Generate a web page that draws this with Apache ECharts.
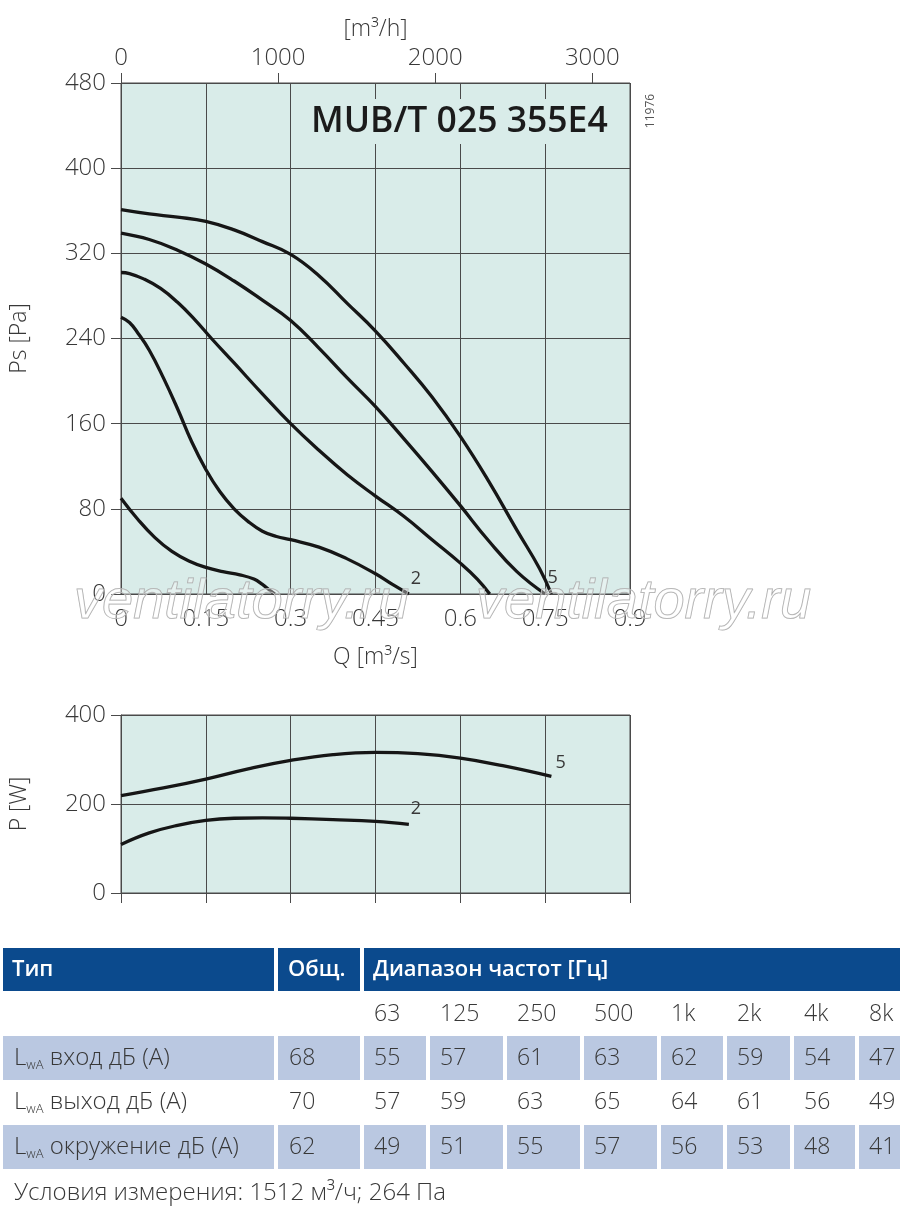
<!DOCTYPE html>
<html><head><meta charset="utf-8">
<script src="https://cdn.jsdelivr.net/npm/echarts@6/dist/echarts.min.js"></script>
<style>html,body{margin:0;padding:0;background:#fff}#c{width:900px;height:1210px}</style>
</head><body><div id="c"></div>
<script>
// ---------- DATA ----------
const qTickValues = [0, 0.15, 0.3, 0.45, 0.6, 0.75, 0.9];
const flowTickValues = [0, 1000, 2000, 3000];
const modelName = 'MUB/T 025 355E4';
const drawingNo = '11976';

// pressure curves (Q m3/s, Ps Pa)
const c1Q  = [0, 0.03, 0.06, 0.09, 0.12, 0.15, 0.18, 0.21, 0.235, 0.25, 0.262, 0.272];
const c1Ps = [90, 70, 53, 40, 31, 25, 21, 18, 14, 9, 4, 0];
const c2Q  = [0, 0.015, 0.03, 0.05, 0.075, 0.1, 0.125, 0.15, 0.175, 0.2, 0.225, 0.25, 0.275, 0.3, 0.35, 0.4, 0.45, 0.48, 0.509];
const c2Ps = [260, 255, 245, 229, 203, 174, 143, 117, 96, 80, 68, 59, 54, 51, 44, 33, 19, 9, 0];
const c3Q  = [0, 0.015, 0.04, 0.07, 0.1, 0.13, 0.16, 0.2, 0.25, 0.3, 0.35, 0.4, 0.45, 0.5, 0.55, 0.6, 0.63, 0.652];
const c3Ps = [302, 301, 296, 287, 274, 258, 240, 217, 188, 160, 135, 112, 92, 73, 51, 29, 14, 0];
const c4Q  = [0, 0.05, 0.1, 0.15, 0.2, 0.25, 0.3, 0.35, 0.4, 0.45, 0.5, 0.55, 0.6, 0.65, 0.7, 0.75];
const c4Ps = [339, 333, 323, 310, 294, 276, 257, 231, 203, 176, 146, 115, 83, 50, 21, 0];
const c5Q  = [0, 0.05, 0.1, 0.15, 0.2, 0.25, 0.3, 0.35, 0.4, 0.45, 0.5, 0.55, 0.6, 0.65, 0.7, 0.74, 0.761];
const c5Ps = [361, 357, 354, 350, 342, 331, 319, 299, 273, 247, 217, 185, 148, 106, 60, 24, 0];

// power curves (Q m3/s, P W)
const p5Q = [0, 0.075, 0.15, 0.225, 0.3, 0.375, 0.45, 0.525, 0.6, 0.675, 0.761];
const p5W = [219, 236, 256, 279, 298, 311, 316, 313, 303, 286, 262];
const p2Q = [0, 0.05, 0.1, 0.15, 0.2, 0.25, 0.3, 0.375, 0.45, 0.509];
const p2W = [109, 135, 152, 163, 168, 169, 168, 165, 161, 154];

// sound table
const headerCells = ['Тип', 'Общ.', 'Диапазон частот [Гц]'];
const freqBands = ['63', '125', '250', '500', '1k', '2k', '4k', '8k'];
const rowNames = ['вход дБ (A)', 'выход дБ (A)', 'окружение дБ (A)'];
const totalLevels = [68, 70, 62];
const inletLevels = [55, 57, 61, 63, 62, 59, 54, 47];
const outletLevels = [57, 59, 63, 65, 64, 61, 56, 49];
const surroundLevels = [49, 51, 55, 57, 56, 53, 48, 41];
const footerText = 'Условия измерения: 1512 м³/ч; 264 Па';
const watermark = 'ventilatorry.ru';

// ---------- STYLE / LAYOUT ----------
const FONT = "'Open Sans', 'DejaVu Sans', sans-serif";
const TXT = '#383838';
const GRIDC = '#4a4a4a';
const PLOTBG = '#d9ece9';
const LINEC = '#161616';
const BLUE = '#0b4a8d';
const ROWBG = '#bac8e1';

const pairs = (xs, ys) => xs.map((x, i) => [x, ys[i]]);
const fmtQ = v => String(+(+v).toFixed(2));

function curve(name, xs, ys, xi, yi, lbl) {
  const s = {
    name, type: 'line', xAxisIndex: xi, yAxisIndex: yi,
    data: pairs(xs, ys), smooth: 0.45,
    symbol: 'none', lineStyle: { color: LINEC, width: 3.3 }, z: 3,
    silent: true
  };
  if (lbl) {
    s.endLabel = { show: true, formatter: lbl.t, fontFamily: FONT, fontSize: 18,
      color: TXT, distance: 2, offset: lbl.off };
  }
  return s;
}

const labelStyle = { fontFamily: FONT, fontSize: 24, color: TXT, fontWeight: 300 };
const nameStyle = { fontFamily: FONT, fontSize: 23, color: TXT, fontWeight: 300 };

// ---------- TABLE GRAPHICS ----------
const g = [];
const colL = [364, 430, 507, 584, 661, 727, 794, 859];
const colR = [426, 503, 580, 657, 723, 790, 855, 900];
const tipL = 3, tipR = 274, totL = 278, totR = 360;
// header
g.push({ type: 'rect', shape: { x: tipL, y: 948, width: tipR - tipL, height: 43 }, style: { fill: BLUE } });
g.push({ type: 'rect', shape: { x: totL, y: 948, width: totR - totL, height: 43 }, style: { fill: BLUE } });
g.push({ type: 'rect', shape: { x: 364, y: 948, width: 536, height: 43 }, style: { fill: BLUE } });
[[12], [288], [373]].forEach((p, i) => g.push({ type: 'text', x: p[0], y: 970,
  style: { text: headerCells[i], fill: '#fff', font: "600 22px " + FONT, textVerticalAlign: 'middle' } }));
// freq row
freqBands.forEach((f, i) => g.push({ type: 'text', x: colL[i] + 10, y: 1014,
  style: { text: f, fill: TXT, font: "300 23px " + FONT, textVerticalAlign: 'middle' } }));
const rowsY = [1036, 1080, 1125];
const rowVals = [inletLevels, outletLevels, surroundLevels];
rowsY.forEach((y, r) => {
  const shaded = r !== 1;
  if (shaded) {
    g.push({ type: 'rect', shape: { x: tipL, y, width: tipR - tipL, height: 44 }, style: { fill: ROWBG } });
    g.push({ type: 'rect', shape: { x: totL, y, width: totR - totL, height: 44 }, style: { fill: ROWBG } });
    colL.forEach((l, i) => g.push({ type: 'rect', shape: { x: l, y, width: colR[i] - l, height: 44 }, style: { fill: ROWBG } }));
  }
  const cy = y + 22;
  g.push({ type: 'text', x: 14, y: cy, style: {
    text: '{a|L}{s|wA}{a| ' + rowNames[r] + '}', textVerticalAlign: 'middle',
    rich: { a: { fontFamily: FONT, fontWeight: 300, fontSize: 24, fill: TXT, color: TXT, lineHeight: 28 },
            s: { fontFamily: FONT, fontWeight: 300, fontSize: 13, fill: TXT, color: TXT, lineHeight: 12, verticalAlign: 'bottom' } } } });
  g.push({ type: 'text', x: 289, y: cy, style: { text: String(totalLevels[r]), fill: TXT, font: "300 23px " + FONT, textVerticalAlign: 'middle' } });
  rowVals[r].forEach((v, i) => g.push({ type: 'text', x: colL[i] + 10, y: cy,
    style: { text: String(v), fill: TXT, font: "300 23px " + FONT, textVerticalAlign: 'middle' } }));
});
g.push({ type: 'text', x: 14, y: 1193, style: { text: footerText, fill: TXT, font: "300 24px " + FONT, textVerticalAlign: 'middle' } });
// drawing number
g.push({ type: 'text', x: 651, y: 111, rotation: Math.PI / 2,
  style: { text: drawingNo, fill: '#555', font: "12px " + FONT, textAlign: 'center', textVerticalAlign: 'middle' } });
// watermark
[[74], [476]].forEach(p => g.push({ type: 'text', x: p[0], y: 602, z: 100,
  style: { text: watermark, fill: 'rgba(255,255,255,0.35)', stroke: '#a8a8a8', lineWidth: 1,
    font: "italic 56px 'Liberation Sans', sans-serif", textVerticalAlign: 'middle' } }));

// ---------- CHART ----------
const chart = echarts.init(document.getElementById('c'), null, { renderer: 'canvas' });
chart.setOption({
  backgroundColor: '#fff',
  animation: false,
  title: { text: modelName, left: 301, top: 99, padding: [5, 12, 4, 10], backgroundColor: PLOTBG,
    textStyle: { fontFamily: FONT, fontSize: 35.5, fontWeight: 600, color: '#1b1b1b' } },
  grid: [
    { left: 119, top: 83, width: 511, height: 511, show: true, backgroundColor: PLOTBG, borderColor: GRIDC, borderWidth: 1 },
    { left: 119, top: 715, width: 511, height: 178, show: true, backgroundColor: PLOTBG, borderColor: GRIDC, borderWidth: 1 }
  ],
  xAxis: [
    { gridIndex: 0, type: 'value', min: 0, max: 0.9, interval: 0.15, position: 'bottom',
      axisLine: { show: true, lineStyle: { color: GRIDC } }, axisTick: { show: false },
      axisLabel: Object.assign({ margin: 13, formatter: fmtQ, customValues: qTickValues }, labelStyle),
      splitLine: { show: true, lineStyle: { color: GRIDC, width: 1 } },
      name: 'Q [m³/s]', nameLocation: 'middle', nameGap: 52, nameTextStyle: nameStyle },
    { gridIndex: 0, type: 'value', min: 0, max: 3240, interval: 1000, position: 'top',
      axisLine: { show: true, lineStyle: { color: GRIDC } },
      axisTick: { show: true, length: 10, lineStyle: { color: GRIDC }, customValues: flowTickValues },
      axisLabel: Object.assign({ margin: 13, customValues: flowTickValues, formatter: v => String(v) }, labelStyle),
      splitLine: { show: false },
      name: '[m³/h]', nameLocation: 'middle', nameGap: 42, nameTextStyle: nameStyle },
    { gridIndex: 1, type: 'value', min: 0, max: 0.9, interval: 0.15, position: 'bottom',
      axisLine: { show: true, lineStyle: { color: GRIDC } },
      axisTick: { show: true, length: 10, lineStyle: { color: GRIDC } },
      axisLabel: { show: false },
      splitLine: { show: true, lineStyle: { color: GRIDC, width: 1 } } }
  ],
  yAxis: [
    { gridIndex: 0, type: 'value', min: 0, max: 480, interval: 80,
      axisLine: { show: true, lineStyle: { color: GRIDC } },
      axisTick: { show: true, length: 10, lineStyle: { color: GRIDC } },
      axisLabel: Object.assign({ margin: 15 }, labelStyle),
      splitLine: { show: true, lineStyle: { color: GRIDC, width: 1 } },
      name: 'Ps [Pa]', nameLocation: 'middle', nameGap: 90, nameTextStyle: nameStyle },
    { gridIndex: 1, type: 'value', min: 0, max: 400, interval: 200,
      axisLine: { show: true, lineStyle: { color: GRIDC } },
      axisTick: { show: true, length: 10, lineStyle: { color: GRIDC } },
      axisLabel: Object.assign({ margin: 15 }, labelStyle),
      splitLine: { show: true, lineStyle: { color: GRIDC, width: 1 } },
      name: 'P [W]', nameLocation: 'middle', nameGap: 90, nameTextStyle: nameStyle }
  ],
  series: [
    curve('c1', c1Q, c1Ps, 0, 0),
    curve('c2', c2Q, c2Ps, 0, 0, { t: '2', off: [0, -15] }),
    curve('c3', c3Q, c3Ps, 0, 0),
    curve('c4', c4Q, c4Ps, 0, 0),
    curve('c5', c5Q, c5Ps, 0, 0, { t: '5', off: [-6, -16] }),
    curve('p5', p5Q, p5W, 2, 1, { t: '5', off: [2, -14] }),
    curve('p2', p2Q, p2W, 2, 1, { t: '2', off: [0, -16] })
  ],
  graphic: g
});
</script></body></html>
